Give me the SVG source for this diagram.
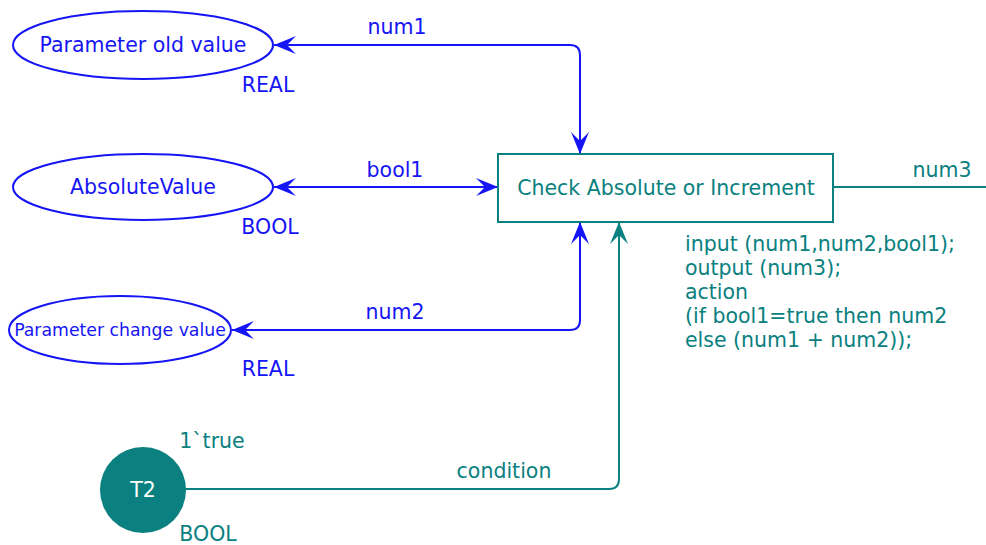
<svg xmlns="http://www.w3.org/2000/svg" width="986" height="545" viewBox="0 0 986 545">
<style>
text{font-family:"DejaVu Sans","Verdana",sans-serif;font-size:20.5px}
.b{fill:#1515f5}
.t{fill:#0a8080}
.place{fill:#fff;stroke:#1515f5;stroke-width:2}
.trans{fill:#fff;stroke:#0a8080;stroke-width:2}
.arcb{fill:none;stroke:#1515f5;stroke-width:2}
.arct{fill:none;stroke:#0a8080;stroke-width:2}
</style>
<defs>
<marker id="ab" markerUnits="userSpaceOnUse" markerWidth="30" markerHeight="30" refX="24" refY="12" orient="auto-start-reverse" viewBox="0 0 30 24">
<path d="M24,12 L2,3 L11,12 L2,21 z" fill="#1515f5"/>
</marker>
<marker id="at" markerUnits="userSpaceOnUse" markerWidth="30" markerHeight="30" refX="24" refY="12" orient="auto-start-reverse" viewBox="0 0 30 24">
<path d="M24,12 L2,3 L11,12 L2,21 z" fill="#0a8080"/>
</marker>
</defs>
<g id="connectors">
<path class="arcb" d="M274,45 H570 Q580,45 580,55 V154" marker-start="url(#ab)" marker-end="url(#ab)"/>
<path class="arcb" d="M274,187 H498" marker-start="url(#ab)" marker-end="url(#ab)"/>
<path class="arcb" d="M232,330 H570 Q580,330 580,320 V222" marker-start="url(#ab)" marker-end="url(#ab)"/>
<path class="arct" d="M186,489 H609 Q619,489 619,479 V222" marker-end="url(#at)"/>
<path class="arct" d="M833,187 H986"/>
<text class="b" x="397" y="34" text-anchor="middle">num1</text>
<text class="b" x="395" y="177" text-anchor="middle">bool1</text>
<text class="b" x="395" y="319" text-anchor="middle">num2</text>
<text class="t" x="942" y="177" text-anchor="middle">num3</text>
<text class="t" x="504" y="478" text-anchor="middle">condition</text>
</g>
<g id="place-old">
<ellipse class="place" cx="143" cy="45" rx="130" ry="34"/>
<text class="b" x="143" y="52" text-anchor="middle">Parameter old value</text>
<text class="b" x="268" y="92" text-anchor="middle">REAL</text>
</g>
<g id="place-abs">
<ellipse class="place" cx="143" cy="187" rx="130" ry="33"/>
<text class="b" x="143" y="194" text-anchor="middle">AbsoluteValue</text>
<text class="b" x="270" y="234" text-anchor="middle">BOOL</text>
</g>
<g id="place-change">
<ellipse class="place" cx="120" cy="330" rx="111" ry="34"/>
<text class="b" x="120" y="336" text-anchor="middle" style="font-size:17.3px">Parameter change value</text>
<text class="b" x="268" y="376" text-anchor="middle">REAL</text>
</g>
<g id="transition">
<rect class="trans" x="498" y="154" width="335" height="68"/>
<text class="t" x="666" y="195" text-anchor="middle">Check Absolute or Increment</text>
<text class="t" x="685" y="251">input (num1,num2,bool1);</text>
<text class="t" x="685" y="275">output (num3);</text>
<text class="t" x="685" y="299">action</text>
<text class="t" x="685" y="323">(if bool1=true then num2</text>
<text class="t" x="685" y="347">else (num1 + num2));</text>
</g>
<g id="place-t2">
<circle cx="143" cy="490" r="43" fill="#0a8080"/>
<text x="143" y="497" text-anchor="middle" fill="#fff">T2</text>
<text class="t" x="212" y="448" text-anchor="middle">1`true</text>
<text class="t" x="208" y="541" text-anchor="middle">BOOL</text>
</g>
</svg>
